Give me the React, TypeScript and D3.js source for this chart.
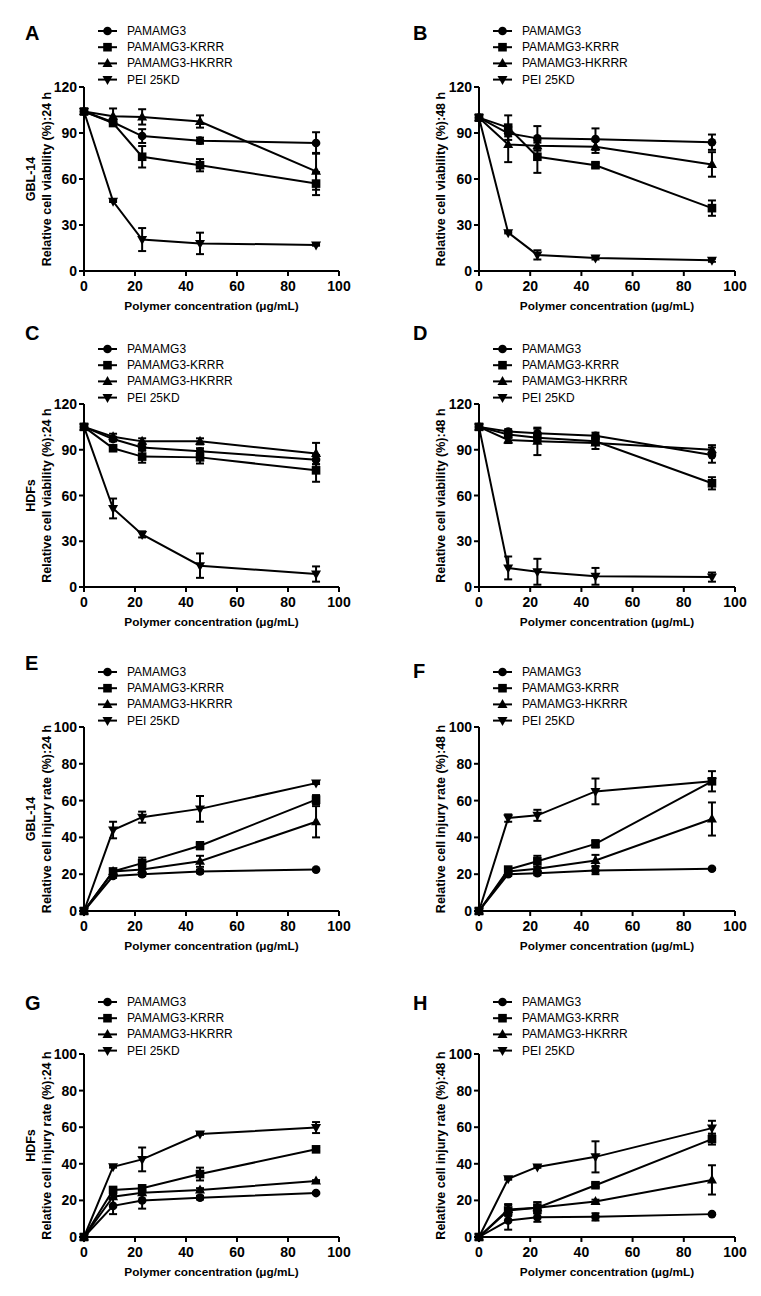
import React from 'react';
import * as d3 from 'd3';

// ---------- DATA ----------
const concentrations = [0, 11.4, 22.8, 45.5, 91];
const seriesNames = ['PAMAMG3', 'PAMAMG3-KRRR', 'PAMAMG3-HKRRR', 'PEI 25KD'];
const xTicks = [0, 20, 40, 60, 80, 100];
const viabilityTicks = [0, 30, 60, 90, 120];
const injuryTicks = [0, 20, 40, 60, 80, 100];

// A: GBL-14 viability 24 h
const aMeans = [
  [104, 97, 88, 85, 83.5],
  [104, 96.5, 74.5, 69, 57],
  [104, 101, 100.5, 97.5, 65],
  [104, 45.5, 20.5, 18, 17],
];
const aErrors = [
  [0, 1.5, 4.5, 2, 7],
  [0, 1.5, 7, 4, 7.5],
  [0, 5, 5, 4, 12],
  [0, 0.5, 7.5, 7, 0.5],
];
// B: viability 48 h
const bMeans = [
  [100, 89.8, 86.5, 86, 84],
  [100, 93.5, 74.5, 69, 41],
  [100, 82.5, 81.7, 81, 69.5],
  [100, 25, 10.5, 8.5, 7],
];
const bErrors = [
  [0, 2, 8, 7, 5],
  [0, 8, 10.5, 1.5, 5],
  [0, 11.5, 2, 4, 8],
  [0, 0.5, 3, 1, 1],
];
// C: HDFs viability 24 h
const cMeans = [
  [105, 97, 91.5, 89, 83.5],
  [105, 91, 85.5, 85, 76.5],
  [105, 98.5, 95.5, 95.5, 87.5],
  [105, 51.5, 34.5, 14, 8.5],
];
const cErrors = [
  [0, 1.5, 2, 2, 3],
  [0, 1.5, 4, 4, 7.5],
  [0, 2, 2, 2, 7],
  [0, 6.5, 2, 8, 5],
];
// D: viability 48 h
const dMeans = [
  [105, 102, 100.8, 99.2, 86.5],
  [105, 100, 97.9, 95.5, 68],
  [105, 96.4, 95.5, 94.5, 90],
  [105, 12.5, 10, 7, 6.5],
];
const dErrors = [
  [0, 1.5, 3, 2, 5],
  [0, 2, 3, 2, 4],
  [0, 2, 9, 4, 3],
  [0, 7.5, 8.5, 5.5, 3],
];
// E: GBL-14 injury 24 h
const eMeans = [
  [0, 19, 20, 21.5, 22.5],
  [0, 21.5, 26, 35.5, 60.5],
  [0, 21.5, 22.5, 27, 48.5],
  [0, 44, 51, 55.5, 69.5],
];
const eErrors = [
  [0, 1, 1, 1, 0.5],
  [0, 1, 3, 2, 2.5],
  [0, 1, 1, 3, 8.5],
  [0, 4.5, 3, 7, 0.5],
];
// F: injury 48 h
const fMeans = [
  [0, 20, 20.5, 22, 23],
  [0, 22.5, 27, 36.5, 70.5],
  [0, 21.5, 23, 27.5, 50],
  [0, 50.5, 52, 65, 70.5],
];
const fErrors = [
  [0, 1, 1, 2, 0.5],
  [0, 1, 3, 2, 5.5],
  [0, 1, 1, 3, 9],
  [0, 2, 3, 7, 1],
];
// G: HDFs injury 24 h
const gMeans = [
  [0, 17, 20, 21.5, 24],
  [0, 25.7, 26.6, 34.4, 47.9],
  [0, 22, 24.2, 25.7, 30.6],
  [0, 38.4, 42.4, 56.3, 59.8],
];
const gErrors = [
  [0, 4.5, 4.5, 1, 0.5],
  [0, 1, 1, 3.5, 1],
  [0, 1, 1, 1, 0.5],
  [0, 0.5, 6.5, 0.5, 3],
];
// H: injury 48 h
const hMeans = [
  [0, 9, 10.8, 11, 12.5],
  [0, 14.5, 16, 28.3, 53.5],
  [0, 15, 16, 19.4, 31.2],
  [0, 31.8, 38.3, 43.8, 59.5],
];
const hErrors = [
  [0, 5, 2.5, 2, 0.5],
  [0, 3, 3, 1, 3],
  [0, 3, 3, 1, 8],
  [0, 0.5, 0.5, 8.5, 4],
];

// ---------- LAYOUT ----------
const FONT = '"Liberation Sans", Arial, Helvetica, sans-serif';
const colLeft = [84, 479];
const colRight = [339, 735];
const rowTop = [87, 404, 727, 1054];
const rowBottom = [271, 587, 911, 1237];
const labelX = [25, 413];
const legendY = [31, 349, 672, 1002];

type PanelCfg = {
  id: string; means: number[][]; errs: number[][]; yMax: number; yTicks: number[];
  col: number; row: number; yTitle: string; cell?: string; labelY: number;
};

const panels: PanelCfg[] = [
  { id: 'A', means: aMeans, errs: aErrors, yMax: 120, yTicks: viabilityTicks, col: 0, row: 0, yTitle: 'Relative cell viability (%):24 h', cell: 'GBL-14', labelY: 33 },
  { id: 'B', means: bMeans, errs: bErrors, yMax: 120, yTicks: viabilityTicks, col: 1, row: 0, yTitle: 'Relative cell viability (%):48 h', labelY: 33 },
  { id: 'C', means: cMeans, errs: cErrors, yMax: 120, yTicks: viabilityTicks, col: 0, row: 1, yTitle: 'Relative cell viability (%):24 h', cell: 'HDFs', labelY: 333 },
  { id: 'D', means: dMeans, errs: dErrors, yMax: 120, yTicks: viabilityTicks, col: 1, row: 1, yTitle: 'Relative cell viability (%):48 h', labelY: 333 },
  { id: 'E', means: eMeans, errs: eErrors, yMax: 100, yTicks: injuryTicks, col: 0, row: 2, yTitle: 'Relative cell injury rate (%):24 h', cell: 'GBL-14', labelY: 663 },
  { id: 'F', means: fMeans, errs: fErrors, yMax: 100, yTicks: injuryTicks, col: 1, row: 2, yTitle: 'Relative cell injury rate (%):48 h', labelY: 671 },
  { id: 'G', means: gMeans, errs: gErrors, yMax: 100, yTicks: injuryTicks, col: 0, row: 3, yTitle: 'Relative cell injury rate (%):24 h', cell: 'HDFs', labelY: 1003 },
  { id: 'H', means: hMeans, errs: hErrors, yMax: 100, yTicks: injuryTicks, col: 1, row: 3, yTitle: 'Relative cell injury rate (%):48 h', labelY: 1003 },
];

function Marker({ kind, x, y }: { kind: number; x: number; y: number }) {
  if (kind === 0) return <circle cx={x} cy={y} r={4.3} fill="#000" />;
  if (kind === 1) return <rect x={x - 4.3} y={y - 4.3} width={8.6} height={8.6} fill="#000" />;
  if (kind === 2) return <path d={`M${x},${y - 5.5}L${x + 5},${y + 3.5}L${x - 5},${y + 3.5}Z`} fill="#000" />;
  return <path d={`M${x},${y + 5.5}L${x + 5},${y - 3.5}L${x - 5},${y - 3.5}Z`} fill="#000" />;
}

function Panel({ p }: { p: PanelCfg }) {
  const x0 = colLeft[p.col];
  const x1 = colRight[p.col];
  const yT = rowTop[p.row];
  const yB = rowBottom[p.row];
  const x = d3.scaleLinear().domain([0, 100]).range([x0, x1]);
  const y = d3.scaleLinear().domain([0, p.yMax]).range([yB, yT]);
  const line = d3.line<number>().x((_, i) => x(concentrations[i])).y((v) => y(v));
  const legTop = legendY[p.row];
  const cy = (yT + yB) / 2;
  const titleX = p.col === 0 ? 47 : 441;
  return (
    <g>
      <text x={labelX[p.col]} y={p.labelY} fontSize={20} fontWeight="bold" fontFamily={FONT} dominantBaseline="central">{p.id}</text>
      {/* legend */}
      {seriesNames.map((n, i) => {
        const ly = legTop + i * 16.2;
        return (
          <g key={n}>
            <line x1={x0 + 14} x2={x0 + 33} y1={ly} y2={ly} stroke="#000" strokeWidth={2} />
            <Marker kind={i} x={x0 + 23.5} y={ly} />
            <text x={x0 + 43} y={ly} fontSize={12} fontFamily={FONT} dominantBaseline="central">{n}</text>
          </g>
        );
      })}
      {/* axes */}
      <line x1={x0} x2={x0} y1={yT} y2={yB + 1} stroke="#000" strokeWidth={2} />
      <line x1={x0 - 1} x2={x1} y1={yB} y2={yB} stroke="#000" strokeWidth={2} />
      {p.yTicks.map((t) => (
        <g key={'y' + t}>
          <line x1={x0 - 5} x2={x0} y1={y(t)} y2={y(t)} stroke="#000" strokeWidth={2} />
          <text x={x0 - 7} y={y(t)} fontSize={14} fontWeight="bold" fontFamily={FONT} textAnchor="end" dominantBaseline="central">{t}</text>
        </g>
      ))}
      {xTicks.map((t) => (
        <g key={'x' + t}>
          <line x1={x(t)} x2={x(t)} y1={yB} y2={yB + 5} stroke="#000" strokeWidth={2} />
          <text x={x(t)} y={yB + 15} fontSize={14} fontWeight="bold" fontFamily={FONT} textAnchor="middle" dominantBaseline="central">{t}</text>
        </g>
      ))}
      <text x={(x0 + x1) / 2} y={yB + 35} fontSize={11.8} fontWeight="bold" fontFamily={FONT} textAnchor="middle" dominantBaseline="central">Polymer concentration (μg/mL)</text>
      <text transform={`translate(${titleX},${cy}) rotate(-90)`} fontSize={12.5} fontWeight="bold" fontFamily={FONT} textAnchor="middle" dominantBaseline="central">{p.yTitle}</text>
      {p.cell && (
        <text transform={`translate(31,${cy}) rotate(-90)`} fontSize={12.5} fontWeight="bold" fontFamily={FONT} textAnchor="middle" dominantBaseline="central">{p.cell}</text>
      )}
      {/* lines */}
      {p.means.map((m, i) => (
        <path key={'l' + i} d={line(m) || ''} fill="none" stroke="#000" strokeWidth={2} />
      ))}
      {/* error bars */}
      {p.means.map((m, i) =>
        m.map((v, j) => {
          const e = p.errs[i][j];
          if (!e) return null;
          const cx = x(concentrations[j]);
          return (
            <g key={`e${i}-${j}`}>
              <line x1={cx} x2={cx} y1={y(v - e)} y2={y(v + e)} stroke="#000" strokeWidth={2} />
              <line x1={cx - 4} x2={cx + 4} y1={y(v + e)} y2={y(v + e)} stroke="#000" strokeWidth={2} />
              <line x1={cx - 4} x2={cx + 4} y1={y(v - e)} y2={y(v - e)} stroke="#000" strokeWidth={2} />
            </g>
          );
        })
      )}
      {/* markers */}
      {p.means.map((m, i) =>
        m.map((v, j) => <Marker key={`m${i}-${j}`} kind={i} x={x(concentrations[j])} y={y(v)} />)
      )}
    </g>
  );
}

export default function App() {
  return (
    <svg width={761} height={1296} style={{ position: 'absolute', left: 0, top: 0, background: '#fff' }}>
      <rect width={761} height={1296} fill="#fff" />
      {panels.map((p) => <Panel key={p.id} p={p} />)}
    </svg>
  );
}
